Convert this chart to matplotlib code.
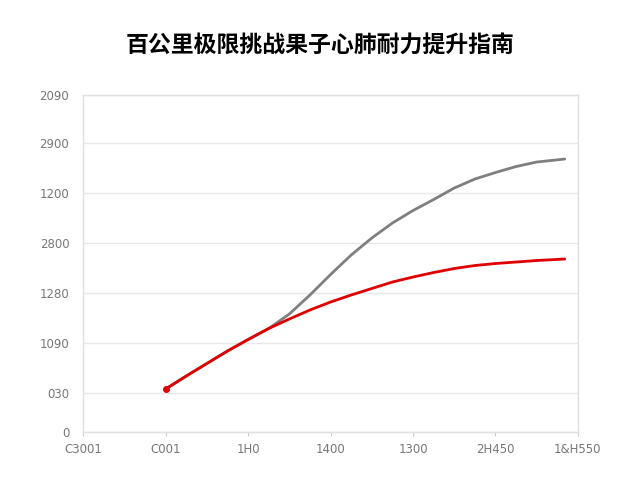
import matplotlib
matplotlib.use("Agg")
import matplotlib.pyplot as plt

plt.rcParams['font.family'] = ['Noto Sans CJK SC', 'DejaVu Sans']

# chart data
title = "百公里极限挑战果子心肺耐力提升指南"
x_labels = ["C3001", "C001", "1H0", "1400", "1300", "2H450", "1&H550"]
y_labels = ["0", "030", "1090", "1280", "2800", "1200", "2900", "2090"]
y_tick_pos = [0, 0.78, 1.78, 2.78, 3.78, 4.78, 5.78, 6.74]

x_vals = [1.0, 1.25, 1.5, 1.75, 2.0, 2.25, 2.5, 2.75, 3.0, 3.25, 3.5,
          3.75, 4.0, 4.25, 4.5, 4.75, 5.0, 5.25, 5.5, 5.84]
gray_vals = [0.86, 1.12, 1.37, 1.62, 1.85, 2.07, 2.36, 2.74, 3.15, 3.54, 3.88,
             4.18, 4.43, 4.65, 4.88, 5.06, 5.19, 5.31, 5.40, 5.46]
red_vals = [0.86, 1.12, 1.37, 1.62, 1.85, 2.07, 2.26, 2.44, 2.60, 2.74, 2.87,
            3.00, 3.10, 3.19, 3.27, 3.33, 3.37, 3.40, 3.43, 3.46]

fig = plt.figure(figsize=(6.4, 4.8), dpi=100)
ax = fig.add_axes([0.13, 0.10, 0.773, 0.702])

ax.plot(x_vals, gray_vals, color="#7f7f7f", linewidth=2.0, solid_capstyle="round", zorder=2)
ax.plot(x_vals, red_vals, color="#e00000", linewidth=2.0, solid_capstyle="round", zorder=3)
ax.plot(x_vals[0], red_vals[0], "o", color="#e00000", markersize=4, zorder=4)

ax.set_xlim(0, 6)
ax.set_ylim(0, y_tick_pos[-1])
ax.set_xticks(range(len(x_labels)))
ax.set_xticklabels(x_labels, fontsize=8.5, color="#777777", family=['DejaVu Sans'])
ax.set_yticks(y_tick_pos)
ax.set_yticklabels(y_labels, fontsize=8.5, color="#777777", family=['DejaVu Sans'])
ax.tick_params(axis="y", length=0, pad=10)
ax.tick_params(axis="x", length=3, color="#cccccc", pad=5)

ax.grid(axis="y", color="#e8e8e8", linewidth=1)
ax.set_axisbelow(True)
for s in ax.spines.values():
    s.set_color("#e0e0e0")
    s.set_linewidth(1)

fig.text(0.5, 0.905, title, ha="center", va="center", fontsize=16.5, fontweight="bold")

plt.savefig("out.png", dpi=100, facecolor="w")
